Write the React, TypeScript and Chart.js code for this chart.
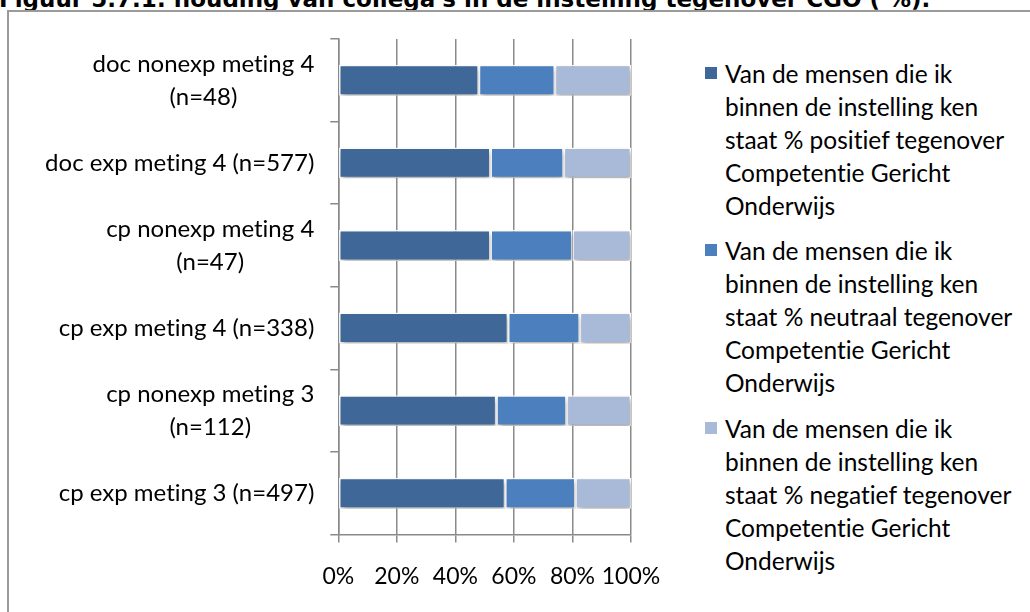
import React, { useEffect, useRef } from "react";
import { Chart, registerables } from "chart.js";

Chart.register(...registerables);

const titleText = "Figuur 5.7.1: houding van collega's in de instelling tegenover CGO ( %).";

const categories: (string | string[])[] = [
  ["doc nonexp meting 4", "(n=48)"],
  "doc exp meting 4 (n=577)",
  ["cp nonexp meting 4", "(n=47)"],
  "cp exp meting 4 (n=338)",
  ["cp nonexp meting 3", "(n=112)"],
  "cp exp meting 3 (n=497)",
];

const positief = [48, 52, 52, 58, 54, 57];
const neutraal = [26, 25, 28, 24.5, 24, 24];
const negatief = [26, 23, 20, 17.5, 22, 19];

const legendPositief = ["Van de mensen die ik", "binnen de instelling ken", "staat % positief tegenover", "Competentie Gericht", "Onderwijs"];
const legendNeutraal = ["Van de mensen die ik", "binnen de instelling ken", "staat % neutraal tegenover", "Competentie Gericht", "Onderwijs"];
const legendNegatief = ["Van de mensen die ik", "binnen de instelling ken", "staat % negatief tegenover", "Competentie Gericht", "Onderwijs"];

const xTicks = [0, 20, 40, 60, 80, 100];

const colors = ["#3F6899", "#4B7FBD", "#A9B9D8"];

const series = [
  { lines: legendPositief, data: positief, color: colors[0] },
  { lines: legendNeutraal, data: neutraal, color: colors[1] },
  { lines: legendNegatief, data: negatief, color: colors[2] },
];

const FONT = "Lato";
const Y_FONT_SIZE = 24;
const Y_LINE_HEIGHT = 33;

const shadowPlugin = {
  id: "barShadow",
  beforeDatasetsDraw(chart: any) {
    const ctx = chart.ctx;
    ctx.save();
    ctx.shadowColor = "rgba(0,0,0,0.35)";
    ctx.shadowBlur = 5;
    ctx.shadowOffsetX = 1;
    ctx.shadowOffsetY = 3;
  },
  afterDatasetsDraw(chart: any) {
    chart.ctx.restore();
  },
};

// Category labels: block right-aligned next to the axis, lines centred within the block
const yLabelPlugin = {
  id: "yLabels",
  afterDraw(chart: any) {
    const scale = chart.scales.y;
    const ctx = chart.ctx;
    const labels = chart.data.labels as (string | string[])[];
    ctx.save();
    ctx.font = `${Y_FONT_SIZE}px ${FONT}`;
    try {
      (ctx as any).textRendering = "optimizeSpeed";
    } catch (e) {}
    ctx.fillStyle = "#000";
    ctx.textBaseline = "middle";
    ctx.textAlign = "center";
    const right = scale.right - 8 - 16;
    labels.forEach((c, i) => {
      const lines = Array.isArray(c) ? c : [c];
      const y = scale.getPixelForTick(i);
      const w = Math.max(...lines.map((l) => ctx.measureText(l).width));
      const cx = right - w / 2;
      lines.forEach((l, j) => {
        ctx.fillText(l, cx, y + (j - (lines.length - 1) / 2) * Y_LINE_HEIGHT);
      });
    });
    ctx.restore();
  },
};

export default function App() {
  const canvasRef = useRef<HTMLCanvasElement | null>(null);

  useEffect(() => {
    if (!canvasRef.current) return;
    const gridColor = "#8a8a8a";
    const chart = new Chart(canvasRef.current, {
      type: "bar",
      data: {
        labels: categories as any,
        datasets: series.map((s) => ({
          label: s.lines.join(" "),
          data: s.data,
          backgroundColor: s.color,
          borderColor: "#ffffff",
          borderWidth: 1.5,
          borderSkipped: false,
          categoryPercentage: 1,
          barPercentage: 0.375,
        })),
      },
      options: {
        indexAxis: "y",
        animation: false,
        responsive: true,
        maintainAspectRatio: false,
        layout: { padding: { top: 39, right: 69, left: 0, bottom: 0 } },
        plugins: {
          legend: { display: false },
          title: { display: false },
          tooltip: { enabled: false },
        },
        scales: {
          x: {
            type: "linear",
            stacked: true,
            min: 0,
            max: 100,
            afterBuildTicks(scale: any) {
              scale.ticks = xTicks.map((v) => ({ value: v }));
            },
            afterFit(scale: any) {
              scale.height = 77.5;
            },
            grid: {
              display: true,
              drawOnChartArea: true,
              drawTicks: true,
              tickLength: 8,
              color: gridColor,
              lineWidth: 1.5,
            },
            border: { display: true, color: gridColor, width: 1.5 },
            ticks: {
              padding: 20,
              color: "#000",
              font: { family: FONT, size: 23, lineHeight: 1.2 },
              callback: (v: any) => v + "%",
              maxRotation: 0,
              autoSkip: false,
            },
          },
          y: {
            type: "category",
            stacked: true,
            afterFit(scale: any) {
              scale.width = 338.3;
            },
            grid: {
              display: true,
              drawOnChartArea: false,
              drawTicks: true,
              tickLength: 8,
              offset: true,
              color: gridColor,
              lineWidth: 1.5,
            },
            border: { display: true, color: gridColor, width: 1.5 },
            ticks: {
              display: false,
              autoSkip: false,
            },
          },
        },
      },
      plugins: [shadowPlugin, yLabelPlugin],
    } as any);
    return () => chart.destroy();
  }, []);

  return (
    <div style={{ position: "absolute", left: 0, top: 0, width: 1030, height: 612, overflow: "hidden", background: "#fff" }}>
      <div
        style={{
          position: "absolute",
          left: -1,
          top: -12.5,
          whiteSpace: "nowrap",
          fontFamily: "'DejaVu Sans', Verdana, sans-serif",
          fontWeight: "bold",
          fontSize: 23,
          lineHeight: "23px",
          color: "#000",
        }}
      >
        {titleText}
      </div>
      <div
        style={{
          position: "absolute",
          left: 7,
          top: 10,
          width: 1100,
          height: 700,
          border: "2px solid #9a9a9a",
          boxSizing: "border-box",
        }}
      />
      <div style={{ position: "absolute", left: 0, top: 0, width: 700, height: 612 }}>
        <canvas ref={canvasRef} />
      </div>
      <div
        style={{
          position: "absolute",
          left: 705,
          top: 56.7,
          fontFamily: FONT,
          fontSize: 24.5,
          color: "#000",
          fontVariantLigatures: "none",
        }}
      >
        {series.map((s, i) => (
          <div key={i} style={{ display: "flex", alignItems: "flex-start", marginBottom: 12.5 }}>
            <div style={{ width: 12, height: 12, background: s.color, marginTop: 10.3, marginRight: 8, flexShrink: 0 }} />
            <div style={{ lineHeight: "33px", whiteSpace: "nowrap" }}>
              {s.lines.map((l, j) => (
                <div key={j}>{l}</div>
              ))}
            </div>
          </div>
        ))}
      </div>
    </div>
  );
}
